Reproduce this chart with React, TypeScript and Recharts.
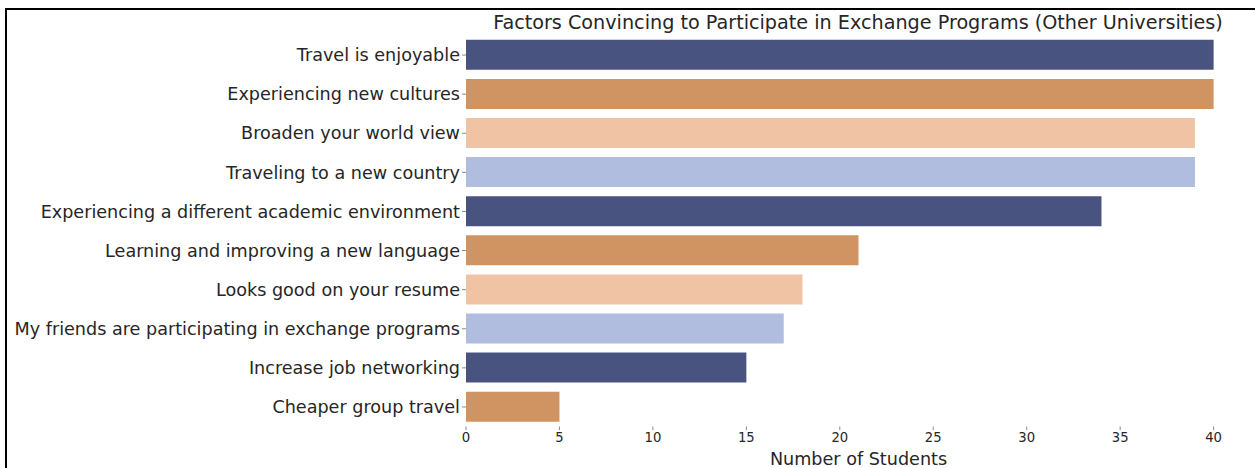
import { Bar, BarChart, Cell, Label, XAxis, YAxis } from "recharts";

const factors = [
  "Travel is enjoyable",
  "Experiencing new cultures",
  "Broaden your world view",
  "Traveling to a new country",
  "Experiencing a different academic environment",
  "Learning and improving a new language",
  "Looks good on your resume",
  "My friends are participating in exchange programs",
  "Increase job networking",
  "Cheaper group travel",
];
const students = [40, 40, 39, 39, 34, 21, 18, 17, 15, 5];
const xTicks = [0, 5, 10, 15, 20, 25, 30, 35, 40];
const palette = ["#48547f", "#d09462", "#f0c3a4", "#b1bddf"];

const font = "'DejaVu Sans', sans-serif";
const ink = "#262626";

export default function App() {
  const data = factors.map((f, i) => ({ factor: f, count: students[i] }));
  return (
    <div style={{ position: "absolute", left: 0, top: 0, width: 1255, height: 468, overflow: "hidden", background: "#fff", fontFamily: font }}>
      <div
        style={{
          position: "absolute",
          left: 5,
          top: 8,
          width: 1300,
          height: 500,
          borderLeft: "2.5px solid #000",
          borderTop: "2.5px solid #000",
        }}
      />
      <div
        style={{
          position: "absolute",
          left: 458,
          width: 800,
          top: 11,
          textAlign: "center",
          fontSize: 19.2,
          color: ink,
          lineHeight: "24px",
          whiteSpace: "nowrap",
        }}
      >
        Factors Convincing to Participate in Exchange Programs (Other Universities)
      </div>
      <div style={{ position: "absolute", left: 0, top: 0 }}>
        <BarChart
          width={1255}
          height={468}
          data={data}
          layout="vertical"
          margin={{ top: 35.5, right: 4, left: 0, bottom: 0 }}
          barCategoryGap="11%"
        >
          <XAxis
            type="number"
            domain={[0, 42]}
            ticks={xTicks}
            axisLine={false}
            tickLine={{ stroke: "#8a8a8a" }}
            tickSize={3.5}
            tickMargin={3}
            height={41.5}
            tick={{ fontSize: 13.2, fill: ink, fontFamily: font }}
          >
            <Label
              value="Number of Students"
              position="insideBottom"
              offset={3}
              style={{ fontSize: 17.6, fill: ink, fontFamily: font }}
            />
          </XAxis>
          <YAxis
            type="category"
            dataKey="factor"
            width={466}
            axisLine={false}
            tickLine={{ stroke: "#8a8a8a" }}
            tickSize={4}
            tickMargin={2}
            interval={0}
            tick={{ fontSize: 17.6, fill: ink, fontFamily: font }}
          />
          <Bar dataKey="count" isAnimationActive={false}>
            {data.map((d, i) => (
              <Cell key={d.factor} fill={palette[i % palette.length]} />
            ))}
          </Bar>
        </BarChart>
      </div>
    </div>
  );
}
